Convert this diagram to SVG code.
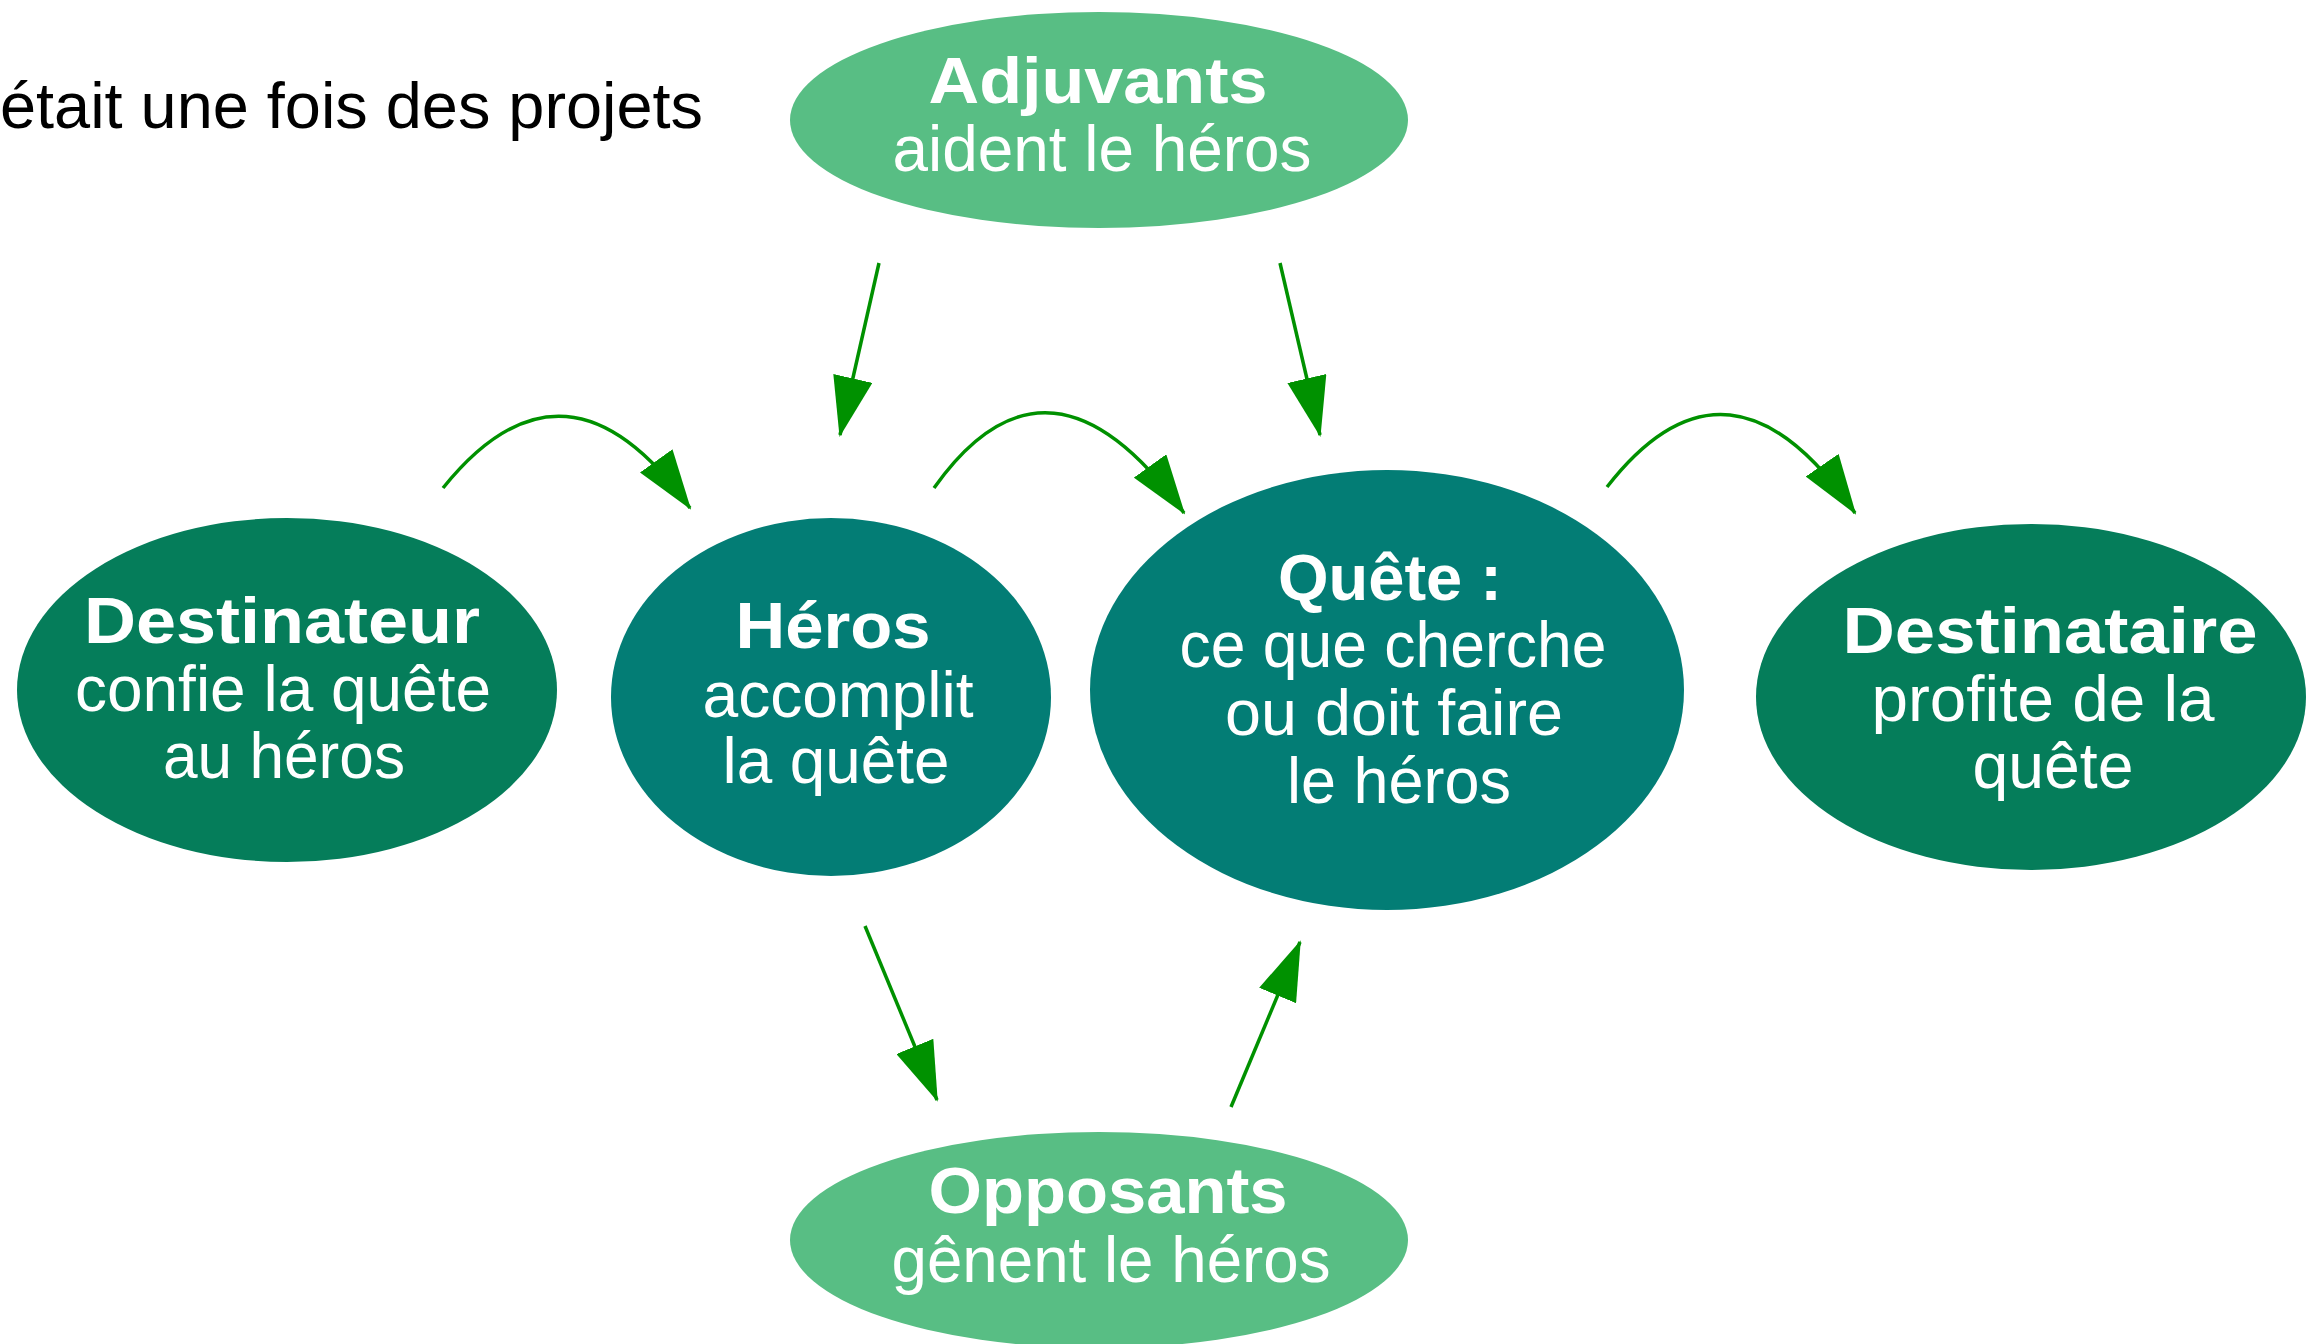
<svg xmlns="http://www.w3.org/2000/svg" width="2307" height="1344" viewBox="0 0 2307 1344">
<defs>
<style>
.light{fill:#58BE84}
.dark{fill:#057D5A}
.teal{fill:#037D75}
.t{font-family:"Liberation Sans",Arial,sans-serif;fill:#ffffff;text-anchor:middle;font-size:64px}
.b{font-weight:bold}
.title{font-family:"Liberation Sans",Arial,sans-serif;fill:#000000;font-size:64px}
.c{fill:none;stroke:#009100;stroke-width:3.5;marker-end:url(#ah)}
</style>
<marker id="ah" viewBox="0 0 60 40" refX="58" refY="20" markerWidth="60" markerHeight="40" markerUnits="userSpaceOnUse" orient="auto">
<path d="M0,0 L60,20 L0,40 z" fill="#009100"/>
</marker>
</defs>
<rect width="2307" height="1344" fill="#ffffff"/>
<text class="title" x="0" y="128" textLength="703" lengthAdjust="spacingAndGlyphs">était une fois des projets</text>

<g id="connectors">
<path class="c" d="M443,488 Q566,335 690,508"/>
<path class="c" d="M934,488 Q1049,326 1184,513"/>
<path class="c" d="M1607,487 Q1729,330 1855,513"/>
<path class="c" d="M879,263 L840,435"/>
<path class="c" d="M1280,263 L1320,435"/>
<path class="c" d="M865,926 L937,1100"/>
<path class="c" d="M1231,1107 L1300,942"/>
</g>

<g id="adjuvants">
<ellipse class="light" cx="1099" cy="120" rx="309" ry="108"/>
<text class="t b" x="1098" y="103" textLength="339" lengthAdjust="spacingAndGlyphs">Adjuvants</text>
<text class="t" x="1102" y="171" textLength="419" lengthAdjust="spacingAndGlyphs">aident le héros</text>
</g>

<g id="destinateur">
<ellipse class="dark" cx="287" cy="690" rx="270" ry="172"/>
<text class="t b" x="282" y="643" textLength="396" lengthAdjust="spacingAndGlyphs">Destinateur</text>
<text class="t" x="283" y="711" textLength="416" lengthAdjust="spacingAndGlyphs">confie la quête</text>
<text class="t" x="284" y="778" textLength="242" lengthAdjust="spacingAndGlyphs">au héros</text>
</g>

<g id="heros">
<ellipse class="teal" cx="831" cy="697" rx="220" ry="179"/>
<text class="t b" x="833" y="648" textLength="195" lengthAdjust="spacingAndGlyphs">Héros</text>
<text class="t" x="838" y="717" textLength="271" lengthAdjust="spacingAndGlyphs">accomplit</text>
<text class="t" x="836" y="783" textLength="227" lengthAdjust="spacingAndGlyphs">la quête</text>
</g>

<g id="quete">
<ellipse class="teal" cx="1387" cy="690" rx="297" ry="220"/>
<text class="t b" x="1390" y="600" textLength="224" lengthAdjust="spacingAndGlyphs">Quête :</text>
<text class="t" x="1393" y="667" textLength="427" lengthAdjust="spacingAndGlyphs">ce que cherche</text>
<text class="t" x="1394" y="735" textLength="338" lengthAdjust="spacingAndGlyphs">ou doit faire</text>
<text class="t" x="1399" y="803" textLength="224" lengthAdjust="spacingAndGlyphs">le héros</text>
</g>

<g id="destinataire">
<ellipse class="dark" cx="2031" cy="697" rx="275" ry="173"/>
<text class="t b" x="2050" y="653" textLength="415" lengthAdjust="spacingAndGlyphs">Destinataire</text>
<text class="t" x="2043" y="721" textLength="343" lengthAdjust="spacingAndGlyphs">profite de la</text>
<text class="t" x="2053" y="788" textLength="161" lengthAdjust="spacingAndGlyphs">quête</text>
</g>

<g id="opposants">
<ellipse class="light" cx="1099" cy="1240" rx="309" ry="108"/>
<text class="t b" x="1108" y="1213" textLength="359" lengthAdjust="spacingAndGlyphs">Opposants</text>
<text class="t" x="1111" y="1282" textLength="439" lengthAdjust="spacingAndGlyphs">gênent le héros</text>
</g>
</svg>
